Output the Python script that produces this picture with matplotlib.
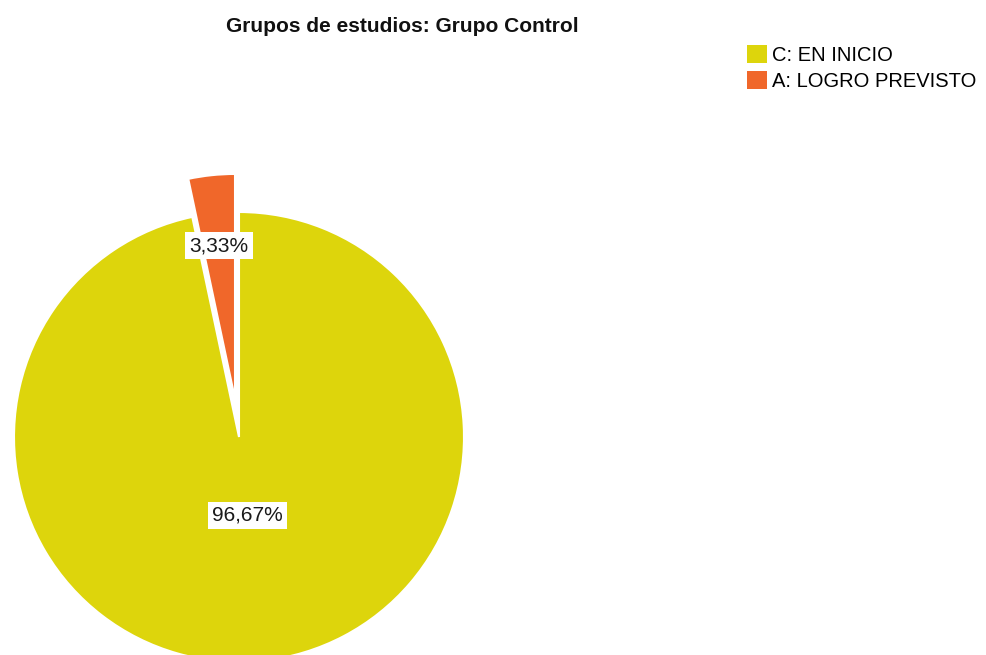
import matplotlib
matplotlib.use('Agg')
import matplotlib.pyplot as plt
import numpy as np
from matplotlib.patches import Patch

plt.rcParams['font.family'] = ['Liberation Sans', 'DejaVu Sans']

title = "Grupos de estudios: Grupo Control"
categories = ["C: EN INICIO", "A: LOGRO PREVISTO"]
values = [96.67, 3.33]
colors = ["#DDD50C", "#F0672A"]
explode_frac = [0.0, 0.17]
label_dist = [0.35, 0.685]

W, H = 987, 655
fig = plt.figure(figsize=(W / 100, H / 100), dpi=100)
ax = fig.add_axes([0, 0, 1, 1])
center = (239, H - 437)
radius = 225
wedges, _ = ax.pie(values, colors=colors,
                   explode=[f * radius for f in explode_frac], startangle=90,
                   counterclock=False, center=center, radius=radius,
                   wedgeprops=dict(edgecolor='white', linewidth=1.5))
ax.set_xlim(0, W)
ax.set_ylim(0, H)
ax.set_aspect('equal')
ax.axis('off')

for w, v, dist in zip(wedges, values, label_dist):
    ang = np.deg2rad((w.theta1 + w.theta2) / 2)
    cx, cy = w.center
    x = cx + dist * w.r * np.cos(ang)
    y = cy + dist * w.r * np.sin(ang)
    ax.text(x, y, f"{v:.2f}%".replace('.', ','), ha='center', va='center',
            fontsize=15, color='#1a1a1a',
            bbox=dict(facecolor='white', edgecolor='none', boxstyle='square,pad=0.2'))

fig.text(402 / W, 1 - 27 / H, title, ha='center', va='center',
         fontsize=15, fontweight='bold', color='#111111')

handles = [Patch(facecolor=c, edgecolor='none') for c in colors]
fig.legend(handles=handles, labels=categories, loc='upper left',
           bbox_to_anchor=(747 / W, 1 - 45 / H), frameon=False, fontsize=14.5,
           handlelength=1.0, handleheight=1.0, handletextpad=0.25,
           labelspacing=0.3, borderpad=0, borderaxespad=0)

fig.savefig('out.png', dpi=100)
